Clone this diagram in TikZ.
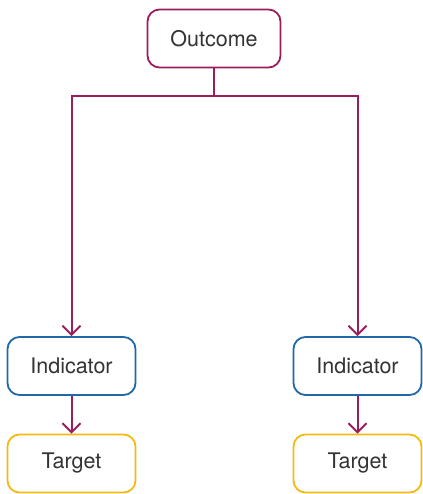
\documentclass[tikz,border=0pt]{standalone}
\usepackage{fontspec}
\setmainfont{TeX Gyre Heros}
\usetikzlibrary{arrows.meta}
\definecolor{plum}{HTML}{9B1D5E}
\definecolor{iblue}{HTML}{2068A8}
\definecolor{tyellow}{HTML}{F4BA12}
\definecolor{txt}{HTML}{333333}
\tikzset{
  box/.style={draw, line width=1.8pt, rounded corners=12pt, minimum width=128pt, minimum height=58pt,
    inner sep=0pt, font=\fontsize{21.5}{24}\selectfont, text=txt, fill=white},
  outbox/.style={box, draw=plum, minimum width=133pt},
  indbox/.style={box, draw=iblue},
  tarbox/.style={box, draw=tyellow},
  conn/.style={draw=plum, line width=2pt},
  tipped/.style={-{Straight Barb[length=9pt, width=18pt, line width=2pt]}}
}
\begin{document}
\begin{tikzpicture}[x=1pt, y=-1pt]
\useasboundingbox (0,0) rectangle (422,494);
\node[outbox] (out) at (214,38.5) {Outcome};
\node[indbox] (ind1) at (71.5,366) {Indicator};
\node[indbox] (ind2) at (357.5,366) {Indicator};
\node[tarbox] (tar1) at (71.5,463.5) {Target};
\node[tarbox] (tar2) at (357.5,463.5) {Target};
\coordinate (j) at (214,96.5);
\draw[conn] (out.south) -- (j);
\draw[conn, tipped] (j) -| (ind1.north);
\draw[conn, tipped] (j) -| (ind2.north);
\draw[conn, tipped] (ind1) -- (tar1);
\draw[conn, tipped] (ind2) -- (tar2);
\end{tikzpicture}
\end{document}
